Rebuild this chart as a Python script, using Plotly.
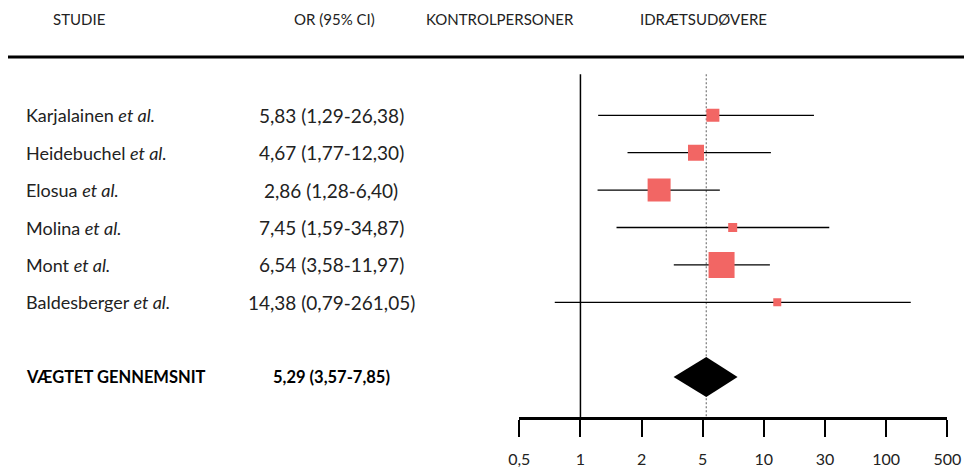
import numpy as np
import plotly.graph_objects as go

# Study data (odds ratios with 95% confidence intervals)
studies = ["Karjalainen", "Heidebuchel", "Elosua", "Molina", "Mont", "Baldesberger"]
or_est = [5.83, 4.67, 2.86, 7.45, 6.54, 14.38]
ci_low = [1.29, 1.77, 1.28, 1.59, 3.58, 0.79]
ci_high = [26.38, 12.30, 6.40, 34.87, 11.97, 261.05]
study_weight = [13, 16, 23, 9, 26, 8]  # relative weight, drawn as square size (px)

pooled_label = "VÆGTET GENNEMSNIT"
pooled_est = 5.29
pooled_low = 3.57
pooled_high = 7.85

tick_values = [0.5, 1, 2, 5, 10, 30, 100, 500]
tick_labels = ["0,5", "1", "2", "5", "10", "30", "100", "500"]

headers = ["STUDIE", "OR (95% CI)", "KONTROLPERSONER", "IDRÆTSUDØVERE"]

W, H = 964, 471
FONT = "Lato"
TEXT = "#222222"
SALMON = "#F26664"


def fmt(v):
    return f"{v:.2f}".replace(".", ",")


def pos(v):
    # evenly spaced reference ticks, interpolated between neighbours
    return float(np.interp(v, tick_values, np.arange(len(tick_values))))


rows = list(range(len(studies)))
pooled_row = len(studies) + 1

fig = go.Figure()

# confidence-interval whiskers
wx, wy = [], []
for r, lo, hi in zip(rows, ci_low, ci_high):
    wx += [pos(lo), pos(hi), None]
    wy += [r, r, None]
fig.add_trace(go.Scatter(x=wx, y=wy, mode="lines",
                         line=dict(color="black", width=1.3),
                         hoverinfo="skip", showlegend=False))

# point estimates
fig.add_trace(go.Scatter(x=[pos(v) for v in or_est], y=rows, mode="markers",
                         marker=dict(symbol="square", size=study_weight, opacity=1,
                                     color=SALMON, line=dict(width=0)),
                         showlegend=False))

# pooled diamond
half_h = 0.535
fig.add_trace(go.Scatter(
    x=[pos(pooled_low), pos(pooled_est), pos(pooled_high), pos(pooled_est), pos(pooled_low)],
    y=[pooled_row, pooled_row - half_h, pooled_row, pooled_row + half_h, pooled_row],
    mode="lines", fill="toself", fillcolor="black",
    line=dict(color="black", width=0), showlegend=False))

# reference line at OR = 1 and dashed line at pooled estimate
y_top, y_axis = -1.1, 8.1
fig.add_shape(type="line", xref="x", yref="y", x0=pos(1), x1=pos(1), y0=y_top, y1=y_axis,
              line=dict(color="black", width=1.5), layer="below")
fig.add_shape(type="line", xref="x", yref="y", x0=pos(pooled_est), x1=pos(pooled_est),
              y0=y_top, y1=y_axis, line=dict(color="#777777", width=1.2, dash="2px,2px"),
              layer="below")

# header rule
fig.add_shape(type="line", xref="paper", yref="paper", x0=8 / W, x1=1,
              y0=1 - 57 / H, y1=1 - 57 / H, line=dict(color="black", width=3))

# column headers
header_x = [79, 334, 500, 703]
for txt, hx in zip(headers, header_x):
    fig.add_annotation(x=hx / W, y=1 - 19 / H, xref="paper", yref="paper", text=txt,
                       showarrow=False, xanchor="center", yanchor="middle",
                       font=dict(family=FONT, size=15, color=TEXT))

# study labels and OR text
for r, name, e, lo, hi in zip(rows, studies, or_est, ci_low, ci_high):
    fig.add_annotation(x=24 / W, y=r, xref="paper", yref="y",
                       text=f"{name} <i>et al.</i>", showarrow=False,
                       xanchor="left", yanchor="middle",
                       font=dict(family=FONT, size=18, color=TEXT))
    fig.add_annotation(x=331 / W, y=r, xref="paper", yref="y",
                       text=f"{fmt(e)} ({fmt(lo)}-{fmt(hi)})", showarrow=False,
                       xanchor="center", yanchor="middle",
                       font=dict(family=FONT, size=19, color=TEXT))

fig.add_annotation(x=24 / W, y=pooled_row, xref="paper", yref="y",
                   text=f"<b>{pooled_label}</b>", showarrow=False,
                   xanchor="left", yanchor="middle",
                   font=dict(family=FONT, size=16.5, color="black"))
fig.add_annotation(x=331 / W, y=pooled_row, xref="paper", yref="y",
                   text=f"<b>{fmt(pooled_est)} ({fmt(pooled_low)}-{fmt(pooled_high)})</b>",
                   showarrow=False, xanchor="center", yanchor="middle",
                   font=dict(family=FONT, size=16.5, color="black"))

# y maps row index to vertical pixel position
row0_px, row_step = 115.3, 37.4
y_min = (0 - row0_px) / row_step
y_max = (H - row0_px) / row_step

x_left, x_right = 519.3, 947.3
fig.update_layout(
    width=W, height=H,
    margin=dict(l=0, r=0, t=0, b=0, autoexpand=False),
    paper_bgcolor="white", plot_bgcolor="white",
    xaxis=dict(domain=[x_left / W, x_right / W], range=[0, len(tick_values) - 1],
               anchor="free", position=(H - 418.3) / H, automargin=False,
               tickvals=list(range(len(tick_values))), ticktext=tick_labels,
               showline=True, linecolor="black", linewidth=3,
               ticks="outside", ticklen=17, tickwidth=2, tickcolor="black",
               ticklabelstandoff=8,
               showgrid=False, zeroline=False, fixedrange=True,
               tickfont=dict(family=FONT, size=16, color=TEXT)),
    yaxis=dict(domain=[0, 1], range=[y_max, y_min], visible=False, automargin=False,
               showgrid=False, zeroline=False, fixedrange=True),
    showlegend=False,
)

fig.write_html("out.html")
